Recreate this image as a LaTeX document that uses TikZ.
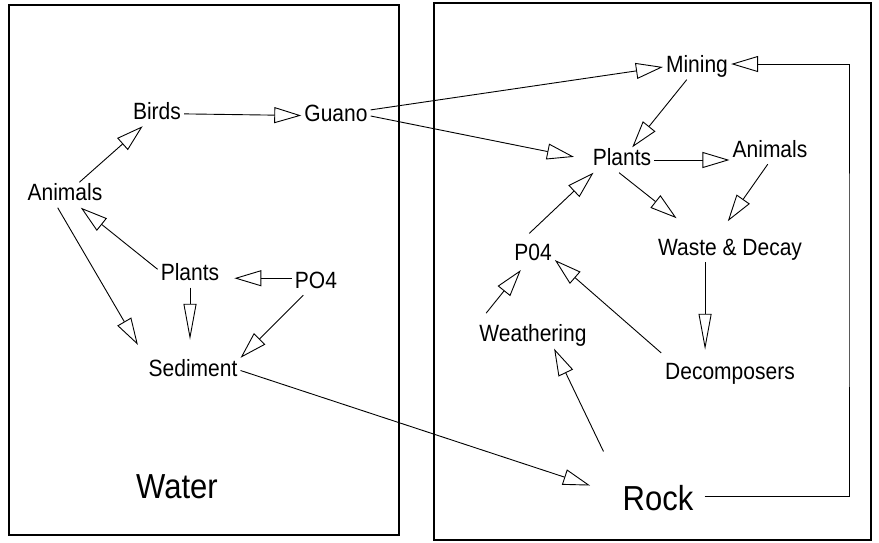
\documentclass[tikz,border=0pt]{standalone}
\usepackage{fontspec}
\setmainfont{Liberation Sans}
\usetikzlibrary{arrows.meta}
\newcommand{\tall}[1]{\scalebox{1}[1.12]{#1}}
\begin{document}
\begin{tikzpicture}[x=1pt, y=-1pt,
  lbl/.style={inner sep=3pt, text height=15pt, text depth=4pt, font=\fontsize{21}{24}\selectfont},
  big/.style={inner sep=3pt, text height=22pt, text depth=6pt, font=\fontsize{31}{36}\selectfont},
  flow/.style={line width=0.9pt, -{Triangle[open, length=27pt, width=16pt]}},
  drop/.style={-{Triangle[open, length=36pt, width=13pt]}}]
  \useasboundingbox (0,0) rectangle (879,542);

  % Frames
  \draw[line width=1.3pt] (9,5) rectangle (399,535);
  \draw[line width=1.3pt] (434,3) rectangle (871,540);

  % Water side
  \node[lbl] (Birds) at (157,113.5) {\tall{Birds}};
  \node[lbl] (Guano) at (336,116) {\tall{Guano}};
  \node[lbl] (LAnimals) at (65,195) {\tall{Animals}};
  \node[lbl] (LPlants) at (190,275) {\tall{Plants}};
  \node[lbl] (LPO4) at (316,282.5) {\tall{PO4}};
  \node[lbl] (LSediment) at (193,370.5) {\tall{Sediment}};
  \node[big] (Water) at (177,490) {\tall{Water}};

  % Rock side
  \node[lbl] (Mining) at (697,67) {\tall{Mining}};
  \node[lbl] (RPlants) at (622,160) {\tall{Plants}};
  \node[lbl] (RAnimals) at (770,151.5) {\tall{Animals}};
  \node[lbl] (RP04) at (533,255) {\tall{P04}};
  \node[lbl] (Waste) at (730,249.5) {\tall{Waste \& Decay}};
  \node[lbl] (Weathering) at (533,336) {\tall{Weathering}};
  \node[lbl] (Decomp) at (730,373.5) {\tall{Decomposers}};
  \node[big] (Rock) at (658,502) {\tall{Rock}};
  \coordinate (loop) at (849,280);

  % Flows
  \foreach \from/\to in {LAnimals/Birds, Birds/Guano, LPO4/LSediment.north east, Mining/RPlants}
    \draw[flow] (\from) -- (\to);
  \draw[flow] (LPlants.170) -- (LAnimals);
  \draw[flow, shorten >=12pt] (LPO4.170) -- (LPO4.170 -| LPlants.east);
  \draw[flow, drop, shorten >=18pt] (LPlants.south) -- (LPlants.south |- LSediment.north);
  \draw[flow, shorten >=15pt] (LAnimals.-120) -- (LSediment.north west);
  \draw[flow, shorten >=31pt] (LSediment.east) -- (Rock.170);
  \draw[flow] (Guano.10) -- (Mining.west);
  \draw[flow, shorten >=16pt] (Guano.east) -- (RPlants.west);
  \draw[flow] (RPlants.east) -- (RPlants.east -| RAnimals.west);
  \draw[flow, shorten >=30pt] (RPlants.-103) -- (Waste.157);
  \draw[flow, shorten >=19pt] (RAnimals.-100) -- (Waste.136);
  \draw[flow, shorten <=13pt] (RP04.136) -- (RPlants.-156);
  \draw[flow, drop, shorten >=11pt] (Waste.-153) -- (Waste.-153 |- Decomp.north);
  \draw[flow, shorten <=12pt] (Decomp.168) -- (RP04.-13);
  \draw[flow, shorten <=13pt, shorten >=3pt] (Weathering.167) -- (RP04.-129);
  \draw[flow, shorten <=37pt] (Rock.north west) -- (Weathering.-31);
  \draw[flow, shorten <=8pt] (Rock.8) -| (loop) |- (Mining.5);
\end{tikzpicture}
\end{document}
